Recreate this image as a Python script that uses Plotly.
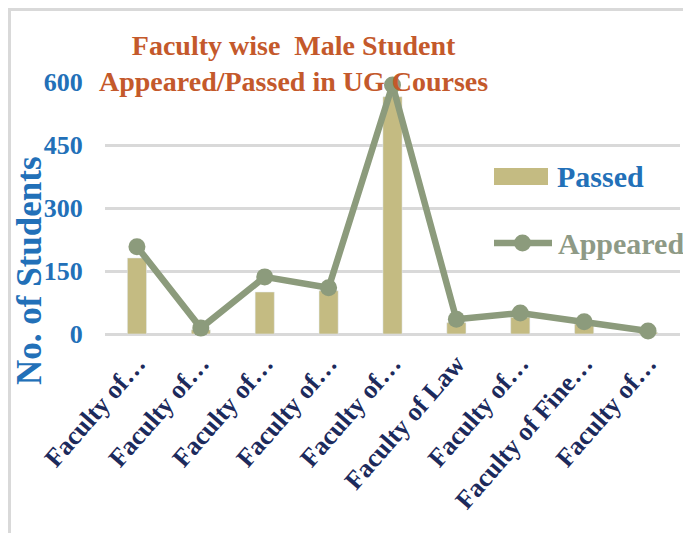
import plotly.graph_objects as go

# =========================================
# Data
# =========================================

faculties = [
    "Faculty of…", "Faculty of…", "Faculty of…", "Faculty of…", "Faculty of…",
    "Faculty of Law", "Faculty of…", "Faculty of Fine…", "Faculty of…",
]
passed = [181, 10, 100, 103, 565, 27, 40, 24, 4]
appeared = [208, 14, 136, 110, 593, 35, 50, 29, 7]
y_ticks = [0, 150, 300, 450, 600]

BAR_COLOR = "#c4bb82"
LINE_COLOR = "#8c9b7c"
BLUE = "#2270b8"
TITLE_COLOR = "#c4592b"
NAVY = "#1c2a5c"
FONT = "Liberation Serif"

# the page body adds an 8px margin, so the figure is drawn 8px smaller
OFF = 8
W, H = 691 - OFF, 533 - OFF

# plot area in reference pixels (used for placing decorations)
L, R, T, B = 105, 680, 82, 334


def px(x):
    return (x - L) / (R - L)


def py(y):
    return (B - y) / (B - T)


fig = go.Figure()

# =========================================
# Passed bars
# =========================================

fig.add_trace(
    go.Bar(
        x=list(range(len(faculties))),
        y=passed,
        name="Passed",
        marker=dict(color=BAR_COLOR),
        showlegend=False,
    )
)

# =========================================
# Appeared line
# =========================================

fig.add_trace(
    go.Scatter(
        x=list(range(len(faculties))),
        y=appeared,
        mode="lines+markers",
        name="Appeared",
        line=dict(color=LINE_COLOR, width=6.5),
        marker=dict(color=LINE_COLOR, size=17),
        cliponaxis=False,
        showlegend=False,
    )
)

# =========================================
# Layout
# =========================================

fig.update_layout(
    width=W,
    height=H,
    margin=dict(l=L - OFF, r=691 - R, t=T - OFF, b=533 - B),
    plot_bgcolor="white",
    paper_bgcolor="white",
    bargap=0.7,
    font=dict(family=FONT),
    xaxis=dict(
        tickmode="array",
        tickvals=list(range(len(faculties))),
        ticktext=faculties,
        tickangle=-49,
        tickfont=dict(family=FONT, size=26, color=NAVY, weight="bold"),
        ticks="outside",
        ticklen=3,
        tickcolor="rgba(0,0,0,0)",
        showgrid=False,
        range=[-0.5, len(faculties) - 0.5],
    ),
    yaxis=dict(
        range=[0, 600],
        tickvals=y_ticks,
        tickfont=dict(family=FONT, size=26, color=BLUE, weight="bold"),
        ticks="outside",
        ticklen=16,
        tickcolor="rgba(0,0,0,0)",
        gridcolor="#d9d9d9",
        gridwidth=2.5,
        zeroline=True,
        zerolinecolor="#d9d9d9",
        zerolinewidth=2.5,
    ),
)

# outer frame (cropped border of the original picture)
fig.add_shape(
    type="rect", xref="paper", yref="paper",
    x0=px(9.5), x1=px(720), y0=py(560), y1=py(9.5),
    line=dict(color="#d9d9d9", width=3), layer="below",
)

# =========================================
# Titles
# =========================================

fig.add_annotation(
    text="Faculty wise  Male Student<br>Appeared/Passed in UG Courses",
    xref="paper", yref="paper", x=px(293), y=py(63),
    showarrow=False, xanchor="center", yanchor="middle",
    font=dict(family=FONT, size=28, color=TITLE_COLOR, weight="bold"),
)

fig.add_annotation(
    text="No. of Students",
    xref="paper", yref="paper", x=px(29), y=py(271),
    showarrow=False, textangle=-90, xanchor="center", yanchor="middle",
    font=dict(family=FONT, size=35, color=BLUE, weight="bold"),
)

# =========================================
# Legend (drawn by hand)
# =========================================

fig.add_shape(
    type="rect", xref="paper", yref="paper",
    x0=px(494), x1=px(548), y0=py(185), y1=py(168),
    fillcolor=BAR_COLOR, line=dict(width=0),
)
fig.add_annotation(
    text="Passed", xref="paper", yref="paper", x=px(555), y=py(176),
    showarrow=False, xanchor="left", yanchor="middle",
    font=dict(family=FONT, size=30, color=BLUE, weight="bold"),
)

fig.add_shape(
    type="line", xref="paper", yref="paper",
    x0=px(494), x1=px(552), y0=py(243), y1=py(243),
    line=dict(color=LINE_COLOR, width=6.5),
)
fig.add_shape(
    type="circle", xref="paper", yref="paper",
    x0=px(514), x1=px(531), y0=py(251.5), y1=py(234.5),
    fillcolor=LINE_COLOR, line=dict(width=0),
)
fig.add_annotation(
    text="Appeared", xref="paper", yref="paper", x=px(556), y=py(243),
    showarrow=False, xanchor="left", yanchor="middle",
    font=dict(family=FONT, size=30, color="#8e9a86", weight="bold"),
)

fig.write_html("out.html")
